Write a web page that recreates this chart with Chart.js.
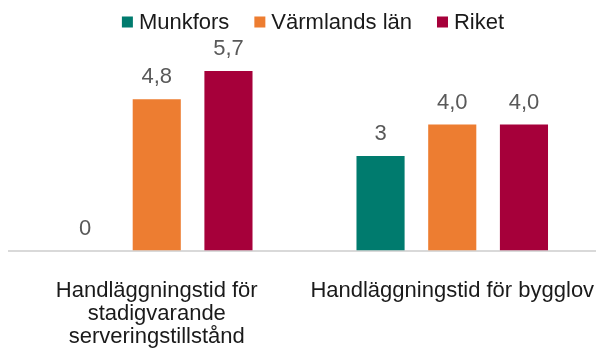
<!DOCTYPE html>
<html lang="sv">
<head>
<meta charset="utf-8">
<script src="https://cdn.jsdelivr.net/npm/chart.js@4/dist/chart.umd.min.js"></script>
<style>
  html, body { margin: 0; padding: 0; background: #ffffff; overflow: hidden; }
  #wrap { width: 600px; height: 354px; position: relative; }
</style>
</head>
<body>
<div id="wrap"><canvas id="chart"></canvas></div>
<script>
// Kategorier (flerradiga etiketter)
const categories = [
  ["Handläggningstid för", "stadigvarande", "serveringstillstånd"],
  "Handläggningstid för bygglov"
];

// Serier
const seriesNames = ["Munkfors", "Värmlands län", "Riket"];
const munkfors = [0, 3];
const varmlandsLan = [4.8, 4.0];
const riket = [5.7, 4.0];

// Antal decimaler i värdeetiketterna per serie
const labelDecimals = [0, 1, 1];

const seriesColors = ["#007B6E", "#ED7D31", "#A6003A"];
const FONT = "'Liberation Sans', Arial, 'DejaVu Sans', sans-serif";

function fmt(v, d) {
  return v.toFixed(d).replace(".", ",");
}

// Värdeetiketter ovanför staplarna
const valueLabels = {
  id: "valueLabels",
  afterDatasetsDraw(chart) {
    const ctx = chart.ctx;
    ctx.save();
    ctx.font = "22px " + FONT;
    ctx.fillStyle = "#595959";
    ctx.textAlign = "center";
    ctx.textBaseline = "middle";
    chart.data.datasets.forEach((ds, i) => {
      const meta = chart.getDatasetMeta(i);
      meta.data.forEach((bar, j) => {
        ctx.fillText(fmt(ds.data[j], labelDecimals[i]), bar.x, bar.y - 22);
      });
    });
    ctx.restore();
  }
};

// Förklaring överst: liten ruta + text
const topLegend = {
  id: "topLegend",
  afterDraw(chart) {
    const ctx = chart.ctx;
    const box = 11, gap = 6, spacing = 25, cy = 22, shift = 13;
    ctx.save();
    ctx.font = "22px " + FONT;
    ctx.textBaseline = "middle";
    ctx.textAlign = "left";
    const items = chart.data.datasets.map(ds => ({
      label: ds.label,
      color: ds.backgroundColor,
      w: box + gap + ctx.measureText(ds.label).width
    }));
    const total = items.reduce((s, it) => s + it.w, 0) + spacing * (items.length - 1);
    let x = (chart.width - total) / 2 + shift;
    items.forEach(it => {
      ctx.fillStyle = it.color;
      ctx.fillRect(x, cy - box / 2, box, box);
      ctx.fillStyle = "#1a1a1a";
      ctx.fillText(it.label, x + box + gap, cy + 1);
      x += it.w + spacing;
    });
    ctx.restore();
  }
};

const seriesData = [munkfors, varmlandsLan, riket];

new Chart(document.getElementById("chart"), {
  type: "bar",
  data: {
    labels: categories,
    datasets: seriesNames.map((name, i) => ({
      label: name,
      data: seriesData[i],
      backgroundColor: seriesColors[i],
      borderWidth: 0,
      categoryPercentage: 0.728,
      barPercentage: 0.671
    }))
  },
  options: {
    responsive: true,
    maintainAspectRatio: false,
    animation: false,
    layout: { padding: { top: 30, left: 9, right: 0, bottom: 0 } },
    plugins: {
      legend: { display: false },
      tooltip: { enabled: false }
    },
    scales: {
      x: {
        grid: { display: false, drawTicks: false },
        border: { display: true, color: "#D9D9D9", width: 2 },
        ticks: {
          color: "#1a1a1a",
          font: { family: FONT, size: 22, lineHeight: 1.05 },
          padding: 29,
          maxRotation: 0,
          minRotation: 0,
          autoSkip: false
        },
        afterFit(scale) {
          // Etiketterna får gå ut mot kanten utan att krympa ritytan
          scale.paddingLeft = 0;
          scale.paddingRight = 0;
          scale.height = 103.5;
        }
      },
      y: {
        display: false,
        min: 0,
        max: 7
      }
    }
  },
  plugins: [valueLabels, topLegend]
});
</script>
</body>
</html>
